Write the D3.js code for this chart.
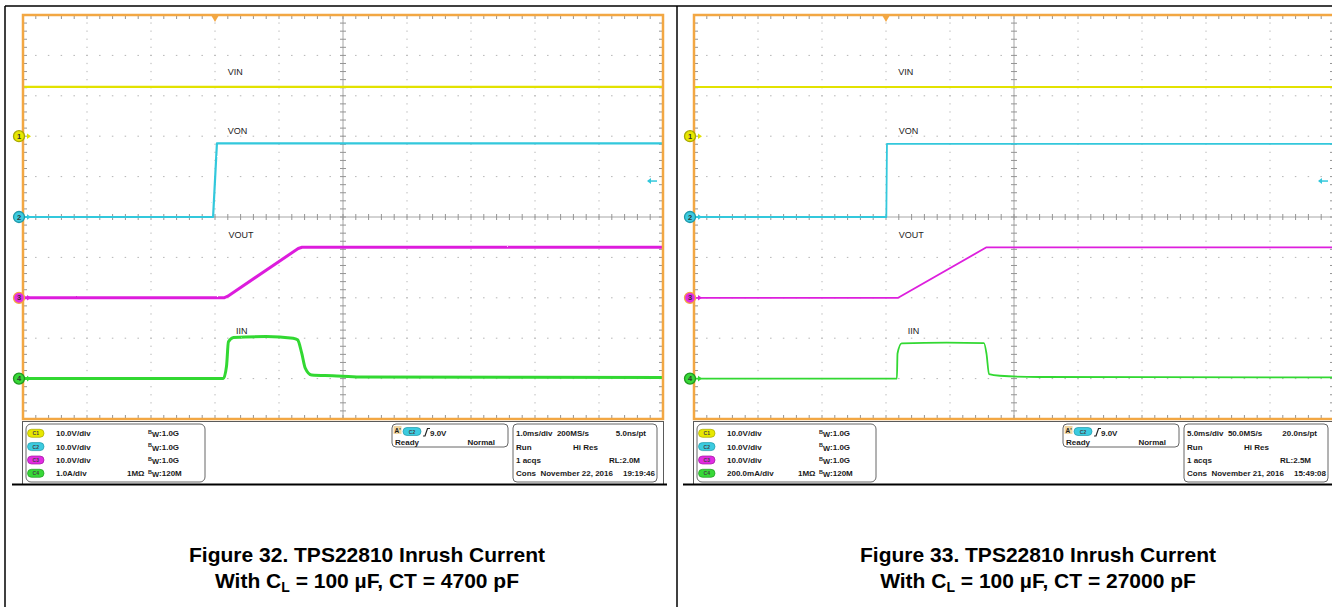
<!DOCTYPE html>
<html>
<head>
<meta charset="utf-8">
<script src="https://cdn.jsdelivr.net/npm/d3@7"></script>
<style>
  body { margin: 0; background: #fff; }
  svg { display: block; font-family: "Liberation Sans", Arial, sans-serif; }
</style>
</head>
<body>
<svg id="chart" width="1332" height="607"></svg>
<script>
// trace breakpoints
// x = divisions from left edge (0..10), y = divisions above screen centre (-5..5)
const traceNames = ["VIN", "VON", "VOUT", "IIN"];
const channelOffsets = [2, 0, -2, -4];

const fig32VIN = [[0, 3.22], [10, 3.22]];
const fig32VON = [[0, 0], [2.97, 0], [3.03, 1.82], [10, 1.82]];
const fig32VOUT = [[0, -2], [3.14, -2], [3.2, -1.96], [4.3, -0.78], [4.36, -0.75], [10, -0.75]];
const fig32IIN = [[0, -4], [3.13, -4], [3.18, -3.69], [3.21, -3.09], [3.29, -2.98], [3.8, -2.96],
  [4.22, -3.0], [4.29, -3.04], [4.355, -3.37], [4.41, -3.74], [4.51, -3.91], [4.84, -3.93], [5.27, -3.96], [10, -3.97]];
const fig32Labels = [[3.2, 3.51], [3.2, 2.05], [3.21, -0.52], [3.33, -2.9]];

const fig33VIN = [[0, 3.22], [10, 3.22]];
const fig33VON = [[0, 0], [3.005, 0], [3.015, 1.81], [10, 1.81]];
const fig33VOUT = [[0, -2], [3.19, -2], [4.57, -0.75], [10, -0.75]];
const fig33IIN = [[0, -4], [3.17, -4], [3.18, -3.38], [3.245, -3.13], [3.95, -3.11], [4.53, -3.12],
  [4.57, -3.38], [4.61, -3.89], [4.78, -3.93], [5.4, -3.96], [10, -3.97]];
const fig33Labels = [[3.19, 3.51], [3.2, 2.05], [3.2, -0.52], [3.34, -2.9]];

// trigger position (div) and level (div above channel 2)
const triggerPos = 3;
const triggerLevel = 0.89;

// readout text
const fig32Scales = ["10.0V/div", "10.0V/div", "10.0V/div", "1.0A/div"];
const fig33Scales = ["10.0V/div", "10.0V/div", "10.0V/div", "200.0mA/div"];
const bandwidths = ["1.0G", "1.0G", "1.0G", "120M"];
const fig32Timing = [["1.0ms/div  200MS/s", "5.0ns/pt"], ["Run", "Hi Res"], ["1 acqs", "RL:2.0M"], ["Cons  November 22, 2016", "19:19:46"]];
const fig33Timing = [["5.0ms/div  50.0MS/s", "20.0ns/pt"], ["Run", "Hi Res"], ["1 acqs", "RL:2.5M"], ["Cons  November 21, 2016", "15:49:08"]];
const fig32Caption = ["Figure 32. TPS22810 Inrush Current", "4700"];
const fig33Caption = ["Figure 33. TPS22810 Inrush Current", "27000"];

const traceColors = ["#e2e200", "#33c8dc", "#dd1fdd", "#32d832"];
const markerFill = ["#e8e800", "#3ccbe0", "#e22ce2", "#38d838"];
const markerStroke = ["#a8a800", "#1f98a8", "#f2a743", "#1f9a1f"];
const orange = "#f2a743";

const svg = d3.select("#chart");

// slight fuzz for the fast-sampled traces
const filt = svg.append("defs").append("filter").attr("id", "fuzz")
  .attr("x", "-2%").attr("y", "-10%").attr("width", "104%").attr("height", "120%");
filt.append("feTurbulence").attr("type", "fractalNoise").attr("baseFrequency", 0.8).attr("numOctaves", 1).attr("seed", 3);
filt.append("feDisplacementMap").attr("in", "SourceGraphic").attr("scale", 1.6)
  .attr("xChannelSelector", "R").attr("yChannelSelector", "G");

// panel frames
svg.append("line").attr("x1", 5).attr("x2", 1332).attr("y1", 6).attr("y2", 6).attr("stroke", "#000").attr("stroke-width", 1.5);
svg.append("line").attr("x1", 5).attr("x2", 5).attr("y1", 6).attr("y2", 607).attr("stroke", "#000").attr("stroke-width", 1.5);
svg.append("line").attr("x1", 677).attr("x2", 677).attr("y1", 6).attr("y2", 607).attr("stroke", "#000").attr("stroke-width", 1.5);

function drawScope(gx, traces, labels, scales, timing, caption, width, fuzzy, idx) {
  const x = d3.scaleLinear().domain([0, 10]).range([gx, gx + 640]);
  const y = d3.scaleLinear().domain([-5, 5]).range([419, 15]);
  const g = svg.append("g");

  const clip = "clip" + idx;
  g.append("clipPath").attr("id", clip)
    .append("rect").attr("x", gx).attr("y", 15).attr("width", 640).attr("height", 404);

  // dotted graticule
  g.selectAll(".vdot").data([1, 2, 3, 4, 6, 7, 8, 9]).join("line")
    .attr("x1", d => x(d)).attr("x2", d => x(d)).attr("y1", 15).attr("y2", 419)
    .attr("stroke", "#b4b4b4").attr("stroke-width", 1)
    .attr("stroke-dasharray", "1.3,6.78").attr("stroke-dashoffset", 0.65);
  g.selectAll(".hdot").data([-4, -3, -2, -1, 1, 2, 3, 4]).join("line")
    .attr("x1", gx).attr("x2", gx + 640).attr("y1", d => y(d)).attr("y2", d => y(d))
    .attr("stroke", "#b4b4b4").attr("stroke-width", 1)
    .attr("stroke-dasharray", "1.5,11.3").attr("stroke-dashoffset", 0.75);

  // centre cross
  g.append("line").attr("x1", x(5)).attr("x2", x(5)).attr("y1", 15).attr("y2", 419).attr("stroke", "#a6a6a6");
  g.append("line").attr("x1", gx).attr("x2", gx + 640).attr("y1", y(0)).attr("y2", y(0)).attr("stroke", "#a6a6a6");

  const xm = d3.range(1, 50).map(i => i / 5);
  const ym = d3.range(-24, 25).map(i => i / 5);
  const tick = "#949494";
  g.selectAll(".tt").data(xm).join("line")
    .attr("x1", d => x(d)).attr("x2", d => x(d)).attr("y1", 15).attr("y2", 19).attr("stroke", tick);
  g.selectAll(".tb").data(xm).join("line")
    .attr("x1", d => x(d)).attr("x2", d => x(d)).attr("y1", 415).attr("y2", 419).attr("stroke", tick);
  g.selectAll(".tc").data(xm).join("line")
    .attr("x1", d => x(d)).attr("x2", d => x(d)).attr("y1", y(0) - 3).attr("y2", y(0) + 3).attr("stroke", tick);
  g.selectAll(".tl").data(ym).join("line")
    .attr("x1", gx).attr("x2", gx + 4).attr("y1", d => y(d)).attr("y2", d => y(d)).attr("stroke", tick);
  g.selectAll(".tr").data(ym).join("line")
    .attr("x1", gx + 636).attr("x2", gx + 640).attr("y1", d => y(d)).attr("y2", d => y(d)).attr("stroke", tick);
  g.selectAll(".tm").data(ym).join("line")
    .attr("x1", x(5) - 3).attr("x2", x(5) + 3).attr("y1", d => y(d)).attr("y2", d => y(d)).attr("stroke", tick);

  // traces
  const line = d3.line().x(d => x(d[0])).y(d => y(d[1]));
  const smooth = d3.line().x(d => x(d[0])).y(d => y(d[1])).curve(d3.curveMonotoneX);
  const tg = g.append("g").attr("clip-path", `url(#${clip})`).append("g");
  if (fuzzy) tg.attr("filter", "url(#fuzz)");
  tg.selectAll("path").data(traces).join("path")
      .attr("d", (d, i) => i === 3 ? smooth(d) : line(d))
      .attr("fill", "none")
      .attr("stroke", (d, i) => traceColors[i])
      .attr("stroke-width", (d, i) => width[i])
      .attr("stroke-linejoin", "round");

  // trace labels
  g.selectAll(".lab").data(labels).join("text")
    .attr("x", d => x(d[0])).attr("y", d => y(d[1]))
    .attr("font-size", 9).attr("fill", "#222")
    .text((d, i) => traceNames[i]);

  // orange border
  g.append("rect").attr("x", gx).attr("y", 15).attr("width", 640).attr("height", 404)
    .attr("fill", "none").attr("stroke", orange).attr("stroke-width", 2.5);

  // trigger position marker
  g.append("path")
    .attr("d", `M${x(triggerPos) - 4},15 L${x(triggerPos) + 4},15 L${x(triggerPos)},22 Z`)
    .attr("fill", orange);
  // trigger level arrow on the right edge
  const ty = y(channelOffsets[1] + triggerLevel);
  g.append("path").attr("d", `M${gx + 625},${ty} L${gx + 634},${ty}`).attr("stroke", traceColors[1]).attr("stroke-width", 1.5);
  g.append("path").attr("d", `M${gx + 624},${ty} L${gx + 628},${ty - 3} L${gx + 628},${ty + 3} Z`).attr("fill", traceColors[1]);

  // channel ground markers
  const mk = g.selectAll(".mk").data(channelOffsets).join("g")
    .attr("transform", d => `translate(${gx - 4},${y(d)})`);
  mk.append("path").attr("d", "M8,-2.8 L12,0 L8,2.8 Z").attr("fill", (d, i) => traceColors[i]);
  mk.append("circle").attr("r", 5.5)
    .attr("fill", (d, i) => markerFill[i])
    .attr("stroke", (d, i) => markerStroke[i]).attr("stroke-width", 1.3);
  mk.append("text").attr("text-anchor", "middle").attr("y", 2.6)
    .attr("font-size", 7.5).attr("font-weight", "bold").attr("fill", "#333")
    .text((d, i) => i + 1);

  // readout area
  const info = svg.append("g").attr("font-size", 8).attr("font-weight", "bold").attr("fill", "#1a1a1a");
  info.append("rect").attr("x", gx - 0.5).attr("y", 421.5).attr("width", 641).attr("height", 63)
    .attr("fill", "none").attr("stroke", "#5a5a5a").attr("stroke-width", 1);
  info.append("line").attr("x1", gx - 11).attr("x2", gx + 644).attr("y1", 484.5).attr("y2", 484.5)
    .attr("stroke", "#000").attr("stroke-width", 2);

  const rows = [436.3, 449.6, 463, 476.3];
  info.append("rect").attr("x", gx + 3).attr("y", 424).attr("width", 179).attr("height", 58).attr("rx", 5)
    .attr("fill", "#fff").attr("stroke", "#666");
  rows.forEach((r, i) => {
    info.append("rect").attr("x", gx + 4.5).attr("y", r - 7).attr("width", 16.5).attr("height", 8).attr("rx", 4)
      .attr("fill", markerFill[i]).attr("stroke", i === 2 ? "#a018a0" : markerStroke[i]).attr("stroke-width", 0.7);
    info.append("text").attr("x", gx + 12.75).attr("y", r - 1).attr("text-anchor", "middle")
      .attr("font-size", 5).attr("fill", "#444").text("C" + (i + 1));
    info.append("text").attr("x", gx + 33).attr("y", r).text(scales[i]);
    const bw = info.append("text").attr("x", gx + 125).attr("y", r);
    bw.append("tspan").attr("font-size", 5.5).attr("dy", -2.5).text("B");
    bw.append("tspan").attr("font-size", 7.5).attr("dy", 3.5).text("W");
    bw.append("tspan").attr("dy", -1).text(":" + bandwidths[i]);
  });
  info.append("text").attr("x", gx + 104).attr("y", rows[3]).text("1MΩ");

  // trigger box
  info.append("rect").attr("x", gx + 369).attr("y", 424).attr("width", 116).attr("height", 23).attr("rx", 4)
    .attr("fill", "#fff").attr("stroke", "#666");
  info.append("rect").attr("x", gx + 370.5).attr("y", 426).attr("width", 8).attr("height", 8)
    .attr("fill", "#f1d7a3");
  info.append("text").attr("x", gx + 371.5).attr("y", 433).attr("font-size", 6.5).text("A'");
  info.append("rect").attr("x", gx + 380).attr("y", 427.5).attr("width", 18).attr("height", 8).attr("rx", 4)
    .attr("fill", markerFill[1]).attr("stroke", markerStroke[1]).attr("stroke-width", 0.7);
  info.append("text").attr("x", gx + 389).attr("y", 433.5).attr("text-anchor", "middle")
    .attr("font-size", 5).attr("fill", "#444").text("C2");
  info.append("path").attr("d", `M${gx + 400},436 L${gx + 402},436 L${gx + 404.5},428.5 L${gx + 407},428.5`)
    .attr("fill", "none").attr("stroke", "#222").attr("stroke-width", 1.2);
  info.append("text").attr("x", gx + 407).attr("y", 435.5).text("9.0V");
  info.append("text").attr("x", gx + 372).attr("y", 445).text("Ready");
  info.append("text").attr("x", gx + 472).attr("y", 445).attr("text-anchor", "end").text("Normal");

  // timing box
  info.append("rect").attr("x", gx + 490).attr("y", 424).attr("width", 144).attr("height", 58).attr("rx", 4)
    .attr("fill", "#fff").attr("stroke", "#666");
  const right = [gx + 623, null, gx + 617, gx + 632];
  timing.forEach((t, i) => {
    info.append("text").attr("x", gx + 493).attr("y", rows[i]).attr("xml:space", "preserve")
      .style("white-space", "pre").text(t[0]);
    if (i === 1) {
      info.append("text").attr("x", gx + 550).attr("y", rows[i]).text(t[1]);
    } else {
      info.append("text").attr("x", right[i]).attr("y", rows[i]).attr("text-anchor", "end").text(t[1]);
    }
  });

  // caption
  const cx = gx + 344;
  const cap = svg.append("g").attr("font-size", 21).attr("font-weight", "bold").attr("fill", "#000")
    .attr("text-anchor", "middle");
  cap.append("text").attr("x", cx).attr("y", 561.5).text(caption[0]);
  const t2 = cap.append("text").attr("x", cx).attr("y", 588);
  t2.append("tspan").text("With C");
  t2.append("tspan").attr("font-size", 14).attr("dy", 4).text("L");
  t2.append("tspan").attr("dy", -4).text(" = 100 µF, CT = " + caption[1] + " pF");
}

drawScope(23, [fig32VIN, fig32VON, fig32VOUT, fig32IIN], fig32Labels, fig32Scales, fig32Timing, fig32Caption,
  [2.2, 2.2, 3, 3], true, 0);
drawScope(694, [fig33VIN, fig33VON, fig33VOUT, fig33IIN], fig33Labels, fig33Scales, fig33Timing, fig33Caption,
  [2, 1.8, 1.8, 1.8], false, 1);
</script>
</body>
</html>
